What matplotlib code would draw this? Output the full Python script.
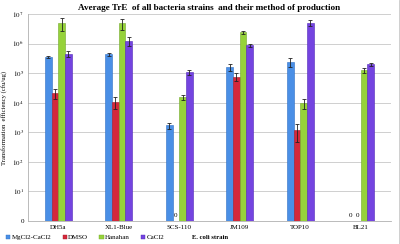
import numpy as np
import matplotlib
matplotlib.use('Agg')
import matplotlib.pyplot as plt
from matplotlib.lines import Line2D

# Données
strains = ['DH5a', 'XL1-Blue', 'SCS-110', 'JM109', 'TOP10', 'BL21']
methods = ['MgCl2-CaCl2', 'DMSO', 'Hanahan', 'CaCl2']

mgcl2 = [3.5e5, 4.4e5, 1.7e3, 1.56e5, 2.4e5, 0]
dmso = [2.1e4, 1.05e4, 0, 7.5e4, 1.18e3, 0]
hanahan = [4.9e6, 4.9e6, 1.5e4, 2.37e6, 9.5e3, 1.26e5]
cacl2 = [4.4e5, 1.2e6, 1.07e5, 8.8e5, 5.0e6, 2.0e5]

mgcl2_err = [0.2e5, 0.5e5, 0.4e3, 0.4e5, 0.8e5, 0]
dmso_err = [0.75e4, 0.45e4, 0, 2.2e4, 0.7e3, 0]
hanahan_err = [2.3e6, 2.0e6, 0.3e4, 3e5, 3.4e3, 0.25e5]
cacl2_err = [1e5, 4e5, 0.18e5, 1.2e5, 1.1e6, 0.26e5]

ytick_vals = [1, 1e1, 1e2, 1e3, 1e4, 1e5, 1e6, 1e7]
ytick_labels = ['0', '$10^1$', '$10^2$', '$10^3$', '$10^4$', '$10^5$', '$10^6$', '$10^7$']

values = [mgcl2, dmso, hanahan, cacl2]
errors = [mgcl2_err, dmso_err, hanahan_err, cacl2_err]
colors = ['#4a8fe6', '#d4283a', '#96d23a', '#7444e0']
edges = ['#2f6fc4', '#a81828', '#72a82a', '#5228b8']

plt.rcParams['font.family'] = ['Liberation Serif', 'DejaVu Serif']
plt.rcParams['mathtext.fontset'] = 'stix'

fig = plt.figure(figsize=(4, 2.44), dpi=100)
ax = fig.add_axes([0.07, 0.094, 0.9075, 0.849])

x = np.arange(len(strains))
width = 0.11
for i, (vals, errs, c, ec) in enumerate(zip(values, errors, colors, edges)):
    pos = x + (i - 1.5) * width
    for p, v, e in zip(pos, vals, errs):
        if v > 0:
            ax.bar(p, v, width, color=c, edgecolor=ec, linewidth=0.4, zorder=3)
            ax.errorbar(p, v, yerr=e, fmt='none', ecolor='#222222',
                        elinewidth=0.6, capsize=1.2, capthick=0.6, zorder=4)
        else:
            # valeur nulle : pas de barre, juste l'étiquette 0
            ax.text(p, 1.25, '0', fontsize=5, ha='center', va='bottom', zorder=4)

ax.set_yscale('log')
ax.set_ylim(1, 1e7)
ax.set_xlim(-0.5, len(strains) - 0.5)
ax.set_yticks(ytick_vals)
ax.set_yticklabels(ytick_labels, fontsize=5)
ax.yaxis.set_minor_locator(matplotlib.ticker.NullLocator())
ax.set_xticks(x)
ax.set_xticklabels(strains, fontsize=5)
ax.tick_params(length=0, pad=3)

ax.grid(axis='y', color='#c8c8c8', linewidth=0.6, zorder=0)
for s in ['top', 'right']:
    ax.spines[s].set_visible(False)
ax.spines['left'].set_color('#b0b0b0')
ax.spines['bottom'].set_color('#b0b0b0')
ax.spines['left'].set_linewidth(0.6)
ax.spines['bottom'].set_linewidth(0.6)

ax.set_title('Average TrE  of all bacteria strains  and their method of production',
             fontsize=6.6, fontweight='bold', pad=3)
ax.set_ylabel('Transformation  efficiency (cfu/ug)', fontsize=4.8, labelpad=4)
fig.text(0.525, 0.022, 'E. coli strain', fontsize=4.8, fontweight='bold', ha='center')

handles = [matplotlib.patches.Patch(facecolor=c, edgecolor=ec, linewidth=0.3) for c, ec in zip(colors, edges)]
fig.legend(handles, methods, loc='lower left', bbox_to_anchor=(0.0, -0.01), ncol=4,
           fontsize=5, frameon=False, handlelength=0.6, handleheight=0.6,
           handletextpad=0.2, columnspacing=1.6)

# Bordure droite du cadre
fig.add_artist(Line2D([0.997, 0.997], [0, 1], color='#c8c8c8', linewidth=0.6))

plt.savefig('out.png', dpi=100)
